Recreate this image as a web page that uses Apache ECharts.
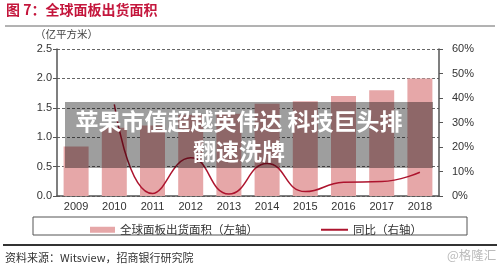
<!DOCTYPE html>
<html lang="zh-CN">
<head>
  <meta charset="UTF-8">
  <title>全球面板出货面积</title>
  <script src="https://cdn.jsdelivr.net/npm/echarts@6/dist/echarts.min.js"></script>
  <style>
    html, body { margin: 0; padding: 0; background: #fff; }
    #main { width: 500px; height: 270px; }
  </style>
</head>
<body>
<div id="main"></div>
<script>
  // 数据
  var years = ['2009', '2010', '2011', '2012', '2013', '2014', '2015', '2016', '2017', '2018'];
  var area = [0.84, 1.16, 1.20, 1.38, 1.40, 1.57, 1.61, 1.70, 1.80, 2.00];   // 亿平方米
  var yoy = ['-', 37.4, 1.0, 15.6, 0.8, 13.3, 1.8, 5.6, 5.9, 9.7];          // %
  var barName = '全球面板出货面积（左轴）';
  var lineName = '同比（右轴）';

  var cjk = '"Noto Sans CJK SC", sans-serif';
  var latin = '"Liberation Sans", Arial, sans-serif';

  var chart = echarts.init(document.getElementById('main'));
  chart.setOption({
    animation: false,
    grid: { left: 57, right: 61, top: 49, bottom: 74 },
    legend: [
      {
        left: 85, top: 219, itemWidth: 25, itemHeight: 6,
        textStyle: { fontFamily: cjk, fontSize: 11.5, color: '#333' },
        data: [{ name: barName, icon: 'rect' }]
      },
      {
        left: 316, top: 219, itemWidth: 27, itemHeight: 2,
        textStyle: { fontFamily: cjk, fontSize: 11.5, color: '#333' },
        data: [{ name: lineName, icon: 'rect' }]
      }
    ],
    xAxis: {
      type: 'category',
      data: years,
      axisLine: { lineStyle: { color: '#555', width: 1.5 } },
      axisTick: { length: 4, lineStyle: { color: '#555' } },
      axisLabel: { margin: 5, fontFamily: latin, fontSize: 11, color: '#333' }
    },
    yAxis: [
      {
        type: 'value', min: 0, max: 2.5, interval: 0.5,
        axisLine: { show: true, lineStyle: { color: '#555', width: 1.5 } },
        axisTick: { show: true, length: 4, lineStyle: { color: '#555' } },
        axisLabel: {
          margin: 5, fontFamily: latin, fontSize: 11, color: '#333',
          formatter: function (v) { return v.toFixed(1); }
        },
        splitLine: { lineStyle: { color: '#666', type: [3, 2], width: 1 } }
      },
      {
        type: 'value', min: 0, max: 60, interval: 10,
        axisLine: { show: true, lineStyle: { color: '#555', width: 1.5 } },
        axisTick: { show: true, length: 4, lineStyle: { color: '#555' } },
        axisLabel: { margin: 13, fontFamily: latin, fontSize: 11, color: '#333', formatter: '{value}%' },
        splitLine: { show: false }
      }
    ],
    series: [
      {
        name: barName,
        type: 'bar',
        data: area,
        barWidth: 25,
        itemStyle: { color: '#e6a7a8' }
      },
      {
        name: lineName,
        type: 'line',
        yAxisIndex: 1,
        data: yoy,
        smooth: 0.5,
        symbol: 'none',
        lineStyle: { color: '#ad142e', width: 1.5 },
        itemStyle: { color: '#ad142e' }
      }
    ],
    graphic: [
      // 标题
      {
        type: 'text', left: 6, top: 3,
        style: { text: '图 7：全球面板出货面积', fill: '#c4163c', font: 'bold 14px ' + cjk }
      },
      {
        type: 'line', shape: { x1: 5, y1: 26, x2: 495, y2: 26 },
        style: { stroke: '#666', lineWidth: 1 }
      },
      {
        type: 'text', left: 35, top: 29,
        style: { text: '（亿平方米）', fill: '#444', font: '10.5px ' + cjk }
      },
      // 图例框
      {
        type: 'rect', shape: { x: 33, y: 217, width: 434, height: 18 },
        style: { fill: 'none', stroke: '#555', lineWidth: 1 }
      },
      {
        type: 'line', shape: { x1: 3, y1: 245, x2: 497, y2: 245 },
        style: { stroke: '#333', lineWidth: 2 }
      },
      {
        type: 'text', left: 5, top: 252,
        style: { text: '资料来源：Witsview，招商银行研究院', fill: '#333', font: '11px ' + cjk }
      },
      {
        type: 'text', left: 447, top: 249,
        style: { text: '@格隆汇', fill: '#bbb', font: '12.5px ' + cjk }
      },
      // 水印横幅
      {
        type: 'rect', z: 100,
        shape: { x: 65, y: 102, width: 368, height: 66 },
        style: { fill: 'rgba(0,0,0,0.38)' }
      },
      {
        type: 'text', z: 101, x: 239, y: 106,
        style: {
          text: '苹果市值超越英伟达 科技巨头排\n翻速洗牌',
          fill: '#fff', font: 'bold 23px ' + cjk,
          align: 'center', verticalAlign: 'top', lineHeight: 30
        }
      }
    ]
  });
</script>
</body>
</html>
